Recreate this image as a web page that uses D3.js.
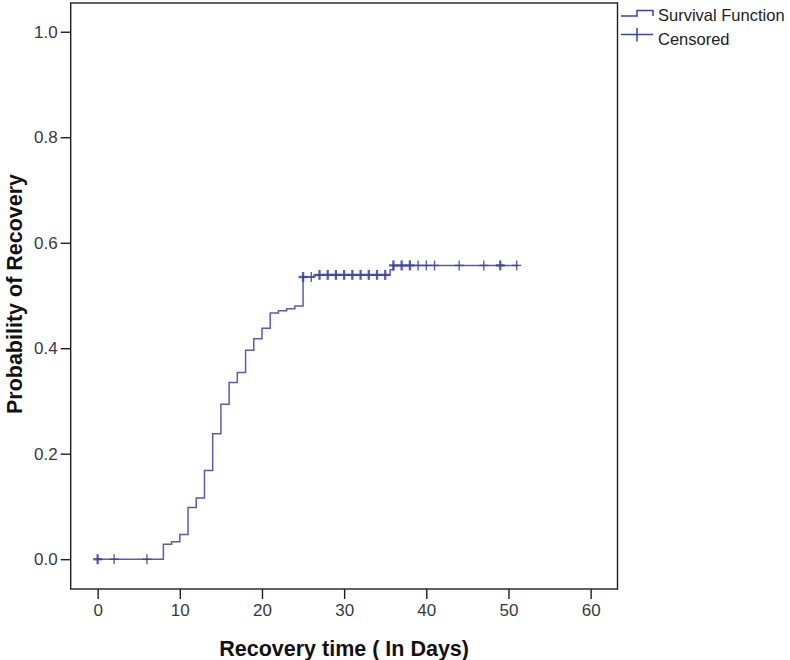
<!DOCTYPE html>
<html>
<head>
<meta charset="utf-8">
<script src="https://cdn.jsdelivr.net/npm/d3@7"></script>
<style>
  html, body { margin: 0; padding: 0; background: #fff; }
  svg { display: block; }
</style>
</head>
<body>
<svg id="chart" width="790" height="660"></svg>
<script>
// ---- data ----
const stepTimes  = [0, 8, 9, 10, 11, 12, 13, 14, 15, 16, 17, 18, 19, 20, 21, 22, 23, 24, 25, 26.3, 35.6, 36];
const stepProbs  = [0, 0.0285, 0.033, 0.047, 0.098, 0.116, 0.168, 0.238, 0.294, 0.335, 0.354, 0.396, 0.418, 0.438, 0.467, 0.471, 0.475, 0.480, 0.535, 0.539, 0.549, 0.557];
const endTime    = 51.2;
const censoredTimes  = [0, 2, 6, 25, 26, 27, 28, 29, 30, 31, 32, 33, 34, 35, 36, 37, 38, 39, 40, 41, 44, 47, 49, 51];
const censoredCounts = [2, 1, 1, 2, 1, 2, 2, 2, 2, 2, 2, 2, 2, 2, 2, 2, 2, 1, 1, 1, 1, 1, 2, 1];
const xTicks = [0, 10, 20, 30, 40, 50, 60];
const yTicks = [0, 0.2, 0.4, 0.6, 0.8, 1.0];
const xTitle = "Recovery time ( In Days)";
const yTitle = "Probability of Recovery";
const legendLabels = ["Survival Function", "Censored"];

// ---- layout ----
const svg = d3.select("#chart");
const plot = { left: 70.7, right: 617.5, top: 3, bottom: 589 };
const lineColor = "#3a42a2";
const frameColor = "#1e1e1e";
const font = "'Liberation Sans', Arial, sans-serif";

const x = d3.scaleLinear().domain([-3.28, 63.27]).range([plot.left, plot.right]);
const y = d3.scaleLinear().domain([-0.0565, 1.0545]).range([plot.bottom, plot.top]);

// frame
svg.append("rect")
  .attr("x", plot.left).attr("y", plot.top)
  .attr("width", plot.right - plot.left).attr("height", plot.bottom - plot.top)
  .attr("fill", "#fff").attr("stroke", frameColor).attr("stroke-width", 1.4);

// axes
const xAxis = d3.axisBottom(x).tickValues(xTicks).tickSize(10).tickPadding(5).tickFormat(d3.format("d"));
const yAxis = d3.axisLeft(y).tickValues(yTicks).tickSize(10).tickPadding(3).tickFormat(d3.format(".1f"));

const gx = svg.append("g").attr("transform", `translate(0,${plot.bottom})`).call(xAxis);
const gy = svg.append("g").attr("transform", `translate(${plot.left},0)`).call(yAxis);
[gx, gy].forEach(g => {
  g.select(".domain").remove();
  g.selectAll(".tick line").attr("stroke", frameColor).attr("stroke-width", 1.4);
  g.selectAll(".tick text")
    .attr("fill", "#3a3a3a")
    .style("font-family", font)
    .style("font-size", "17px");
});

// step curve
const stepData = stepTimes.map((t, i) => [t, stepProbs[i]]);
stepData.push([endTime, stepProbs[stepProbs.length - 1]]);
const line = d3.line().x(d => x(d[0])).y(d => y(d[1])).curve(d3.curveStepAfter);
svg.append("path")
  .datum(stepData)
  .attr("d", line)
  .attr("fill", "none")
  .attr("stroke", lineColor)
  .attr("stroke-width", 1.5)
  .attr("stroke-opacity", 0.85);

// probability at time t (step after)
function probAt(t) {
  let p = stepProbs[0];
  for (let i = 0; i < stepTimes.length; i++) if (stepTimes[i] <= t) p = stepProbs[i];
  return p;
}

// censored marks
const cg = svg.append("g");
censoredTimes.forEach((t, i) => {
  const cx = x(t), cy = y(probAt(t));
  const w = censoredCounts[i] > 1 ? 2.3 : 1.4;
  cg.append("line").attr("x1", cx).attr("x2", cx).attr("y1", cy - 5).attr("y2", cy + 5)
    .attr("stroke", lineColor).attr("stroke-width", w).attr("stroke-opacity", 0.85);
  cg.append("line").attr("x1", cx - 4.5).attr("x2", cx + 4.5).attr("y1", cy).attr("y2", cy)
    .attr("stroke", lineColor).attr("stroke-width", w).attr("stroke-opacity", 0.85);
});

// axis titles
svg.append("text")
  .attr("x", (plot.left + plot.right) / 2).attr("y", 656)
  .attr("text-anchor", "middle")
  .style("font-family", font)
  .style("font-size", "21.5px").style("font-weight", "bold")
  .attr("fill", "#111")
  .text(xTitle);

svg.append("text")
  .attr("transform", `translate(22,${(plot.top + plot.bottom) / 2 - 2}) rotate(-90)`)
  .attr("text-anchor", "middle")
  .style("font-family", font)
  .style("font-size", "21.5px").style("font-weight", "bold")
  .attr("fill", "#111")
  .text(yTitle);

// legend
const lg = svg.append("g");
lg.append("path")
  .attr("d", "M621,16 H637 V10.5 H653 V16")
  .attr("fill", "none").attr("stroke", lineColor).attr("stroke-width", 1.5);
lg.append("line").attr("x1", 621).attr("x2", 653).attr("y1", 34.5).attr("y2", 34.5)
  .attr("stroke", lineColor).attr("stroke-width", 1.5);
lg.append("line").attr("x1", 637).attr("x2", 637).attr("y1", 28).attr("y2", 41.5)
  .attr("stroke", lineColor).attr("stroke-width", 1.5);
legendLabels.forEach((lab, i) => {
  lg.append("text")
    .attr("x", 658).attr("y", 21 + i * 24)
    .style("font-family", font)
    .style("font-size", "16.5px")
    .attr("fill", "#222")
    .text(lab);
});
</script>
</body>
</html>
